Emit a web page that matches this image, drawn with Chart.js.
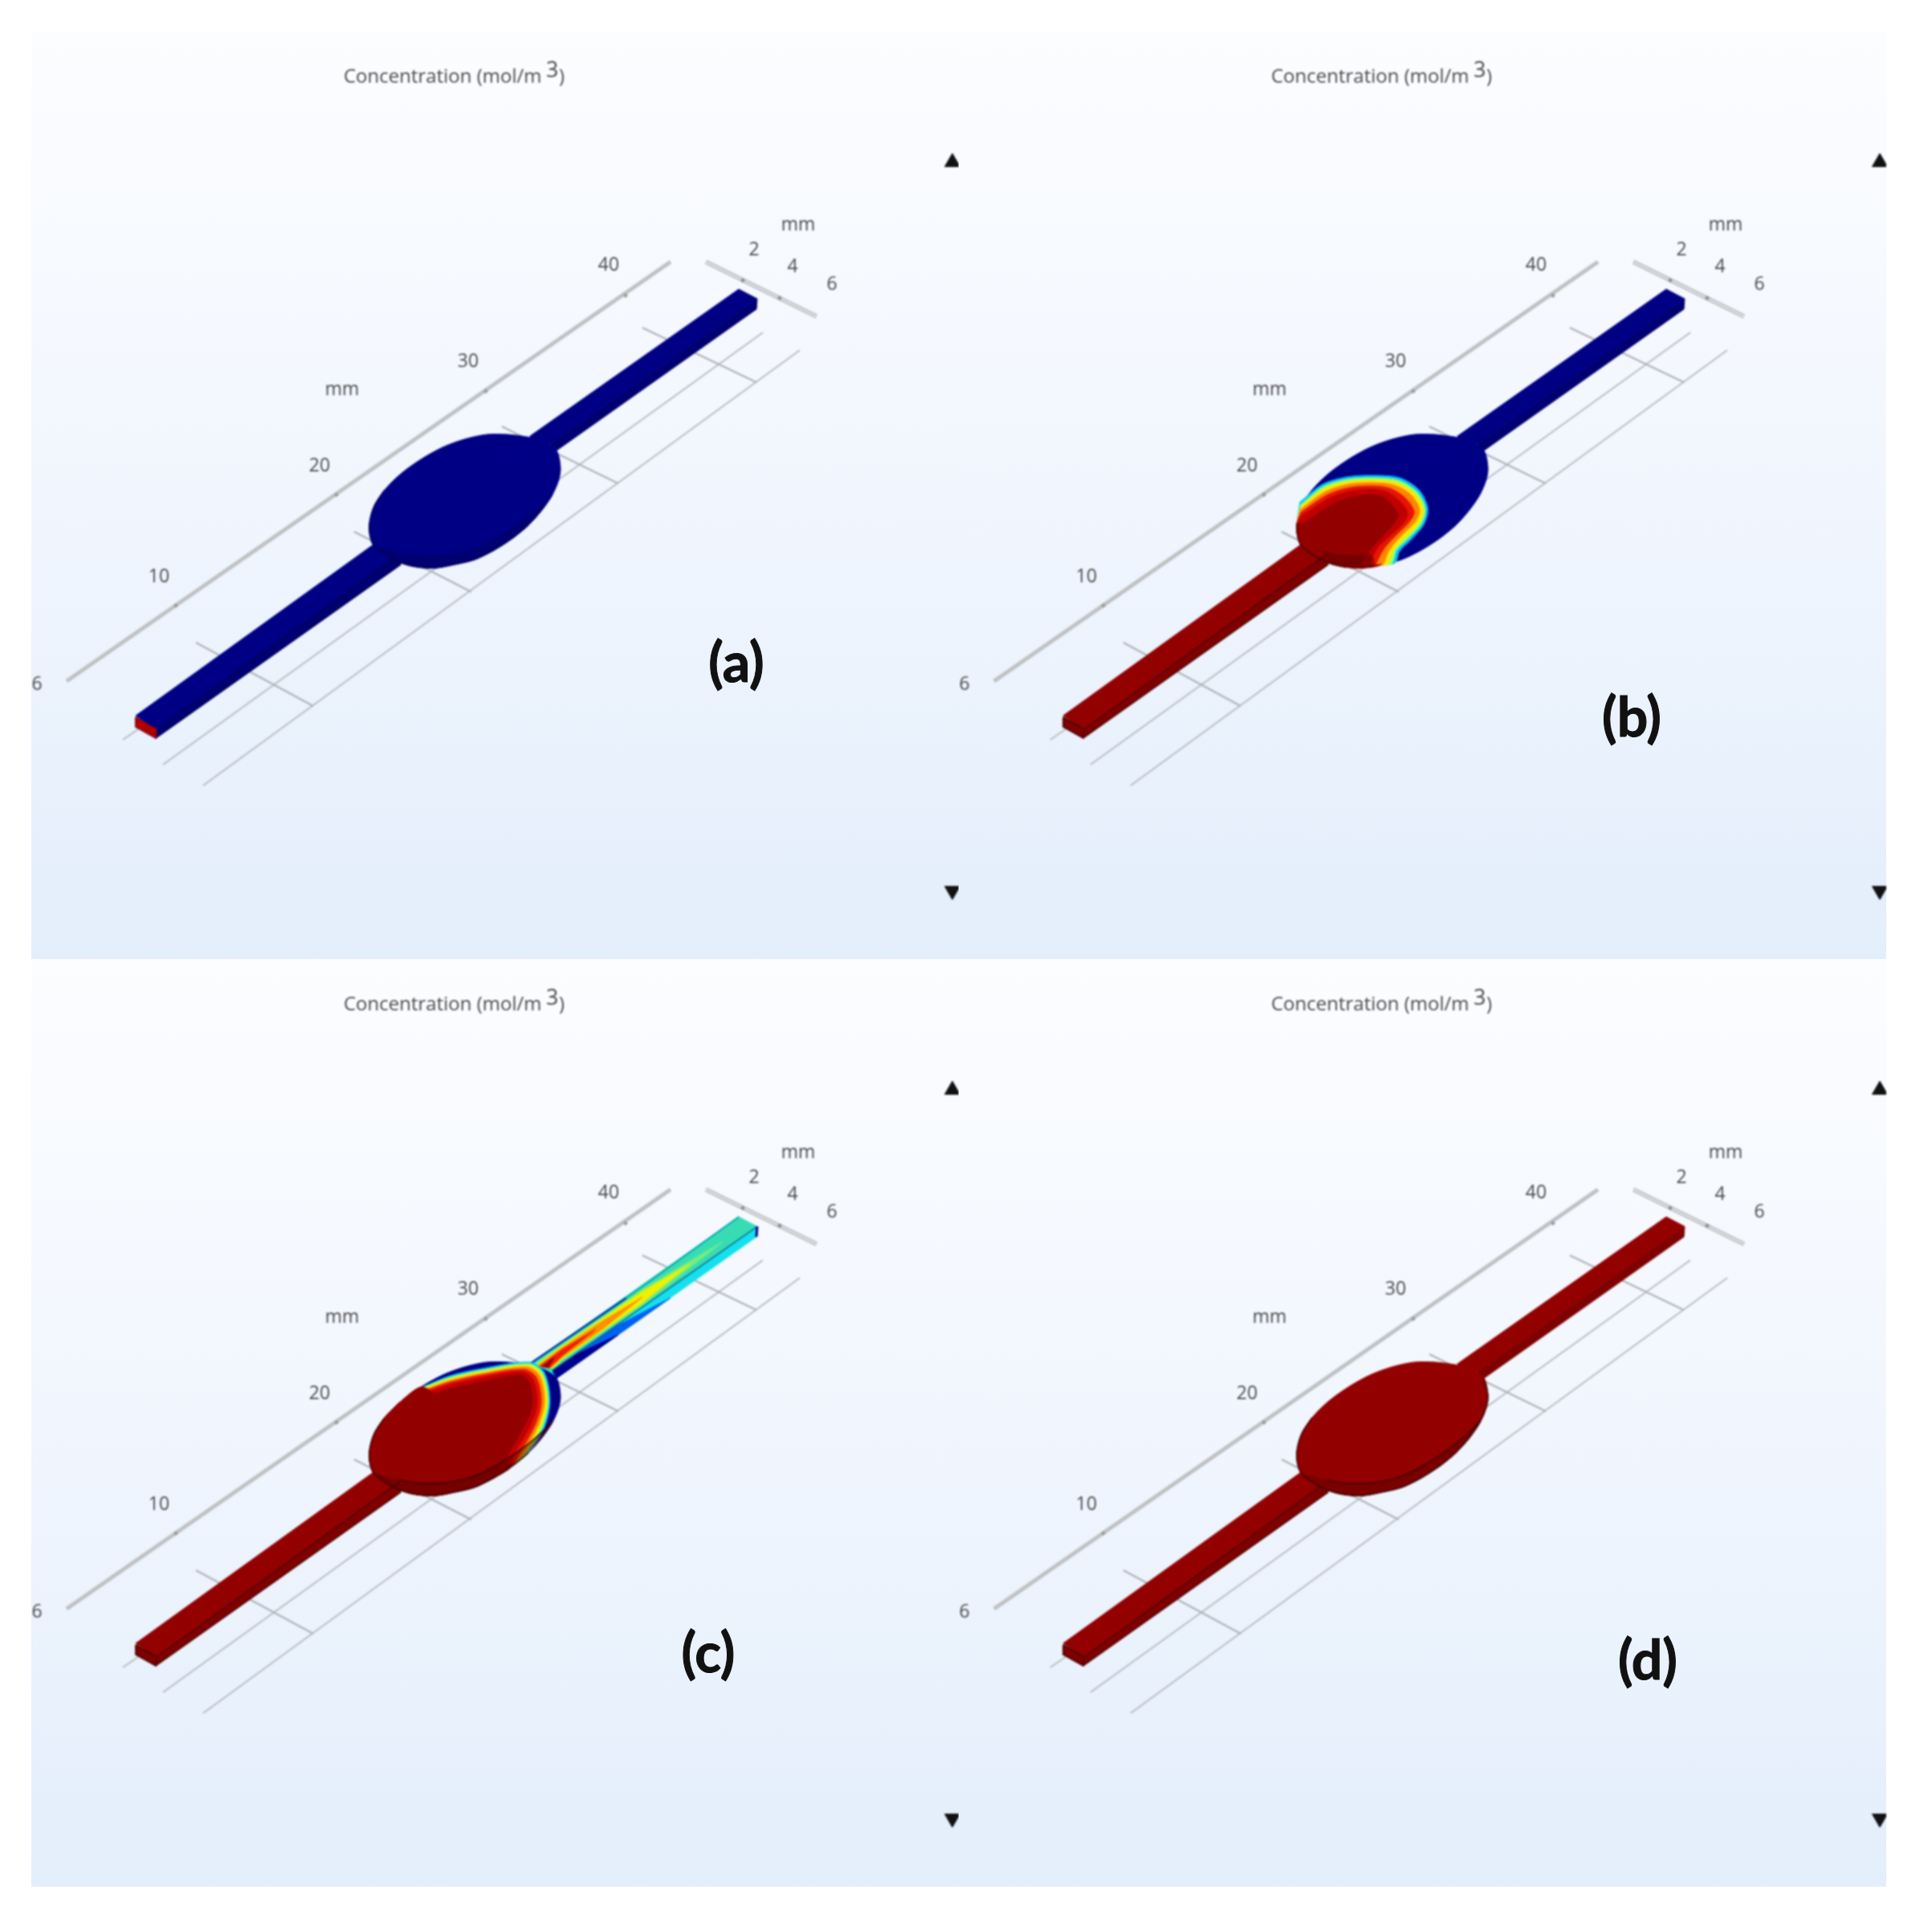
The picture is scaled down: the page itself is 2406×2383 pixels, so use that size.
<!DOCTYPE html>
<html>
<head>
<meta charset="utf-8">
<title>Concentration</title>
<script src="https://cdn.jsdelivr.net/npm/chart.js@4"></script>
<style>
html, body { margin: 0; padding: 0; background: #fff; width: 2406px; height: 2383px; overflow: hidden; }
.panel { position: absolute; width: 1155px; height: 1155px; background: linear-gradient(#fcfdff 0%, #f1f6fe 50%, #e3eefb 100%); }
.panel canvas { position: absolute; left: 0; top: 0; filter: blur(0.9px); }
.tag { position: absolute; font: 700 68px Lato, sans-serif; color: #111; -webkit-text-stroke: 1px #111; transform: translate(-50%, -50%); }
</style>
</head>
<body>
<script>
const panelNames = ["a", "b", "c", "d"];
const panelLeft = [39, 1194, 39, 1194];
const panelTop = [39, 39, 1194, 1194];
const tagLeft = [878, 838, 843, 858];
const tagTop = [783, 851, 861, 870];

const longAxis = [[83, 848], [835, 326]];
const longAxisTicks = [[219, 754], [419, 616], [605, 487], [779, 368]];
const longTickLabels = ["10", "20", "30", "40"];
const longTickLabelPos = [[198, 718], [398, 580], [583, 450], [758, 330]];
const shortAxis = [[879, 326], [1017, 394]];
const shortAxisTicks = [[925, 349], [971, 371]];
const shortTickLabels = ["2", "4", "6"];
const shortTickLabelPos = [[939, 311], [987, 332], [1036, 354]];
const extraLabels = ["mm", "mm", "6"];
const extraLabelPos = [[994, 280], [426, 485], [46, 852]];
const arrowUp = [[1186, 202]];
const arrowDown = [[1186, 1109]];

const gridLong = [
    [[153, 921], [172, 908]],
    [[203, 952], [950, 414]],
    [[253, 978], [996, 436]]
];
const gridCross = [
    [[244, 800], [390, 879]],
    [[441, 662], [587, 737]],
    [[625, 531], [770, 602]],
    [[800, 408], [942, 476]]
];

const leftArmTop = [[169, 891], [465, 678], [497, 690], [195, 908], [169, 891]];
const leftArmSide = [[195, 908], [497, 690], [499, 703], [194, 919], [195, 908]];
const leftEnd = [[169, 893], [195, 908], [194, 919], [169, 905], [169, 893]];
const leftFaceEdge = [[195, 908], [497, 690]];
const leftOuterEdge = [[194, 919], [499, 703]];
const rightArmTop = [[660, 543], [920, 360], [943, 372], [688, 551], [665, 565], [660, 543]];
const rightArmSide = [[688, 551], [943, 372], [942, 385], [693, 561], [670, 570], [688, 551]];

const chamberOutline = [[657, 544], [633, 541], [606, 541], [578, 547], [551, 557], [524, 572], [499, 590], [479, 610], [466, 630], [460, 652],
    [461, 668], [466, 680], [482, 692], [500, 701], [520, 706], [543, 707], [565, 703], [590, 697], [615, 685], [637, 671], [658, 654],
    [675, 635], [688, 616], [696, 597], [698, 582], [693, 561], [675, 549], [657, 544]];
const chamberRim = [[466, 680], [482, 692], [500, 701], [520, 706], [543, 707], [565, 703], [590, 697], [615, 685], [637, 671], [658, 654], [675, 635], [688, 616],
    [678, 625], [660, 641], [638, 657], [614, 672], [588, 684], [563, 690], [538, 692], [515, 691], [497, 688], [466, 680]];
const rimEdge = [[497, 688], [515, 691], [538, 692], [563, 690], [588, 684], [614, 672], [638, 657], [660, 641], [678, 625], [688, 614]];
const bRim = [[466, 680], [482, 692], [500, 701], [520, 706], [543, 707], [555, 705], [553, 691], [538, 692], [515, 691], [497, 688], [466, 680]];
const lowerEdge = [[479, 610], [466, 630], [460, 652], [461, 668], [466, 680], [482, 692], [500, 701], [520, 706], [543, 707], [565, 703], [590, 697],
    [615, 685], [637, 671], [658, 654]];
const rightEdge = [[658, 654], [675, 635], [688, 616], [696, 597], [698, 582], [693, 561]];

// bottom part of the outline that closes every contour
const closeB = [[565, 703], [543, 707], [520, 706], [500, 701], [482, 692], [466, 680], [461, 668], [460, 652]];
const closeC = [[637, 671], [615, 685], [590, 697], [565, 703], [543, 707], [520, 706], [500, 701], [482, 692], [466, 680], [461, 668], [460, 652], [466, 630], [479, 610], [499, 590], [524, 572]];

const contourColors = ["#00c4ff", "#9cff66", "#ffe600", "#ff8400", "#e61400", "#c00000", "#930000"];

const bContours = [
    [[464, 625], [492, 603], [522, 594], [555, 592], [588, 595], [612, 610], [623, 633], [618, 653], [602, 672], [588, 686], [582, 701]],
    [[465, 628], [493, 606], [522, 597], [555, 595], [586, 598], [609, 612], [620, 633], [615, 652], [599, 670], [584, 685], [578, 702]],
    [[465, 631], [494, 609], [523, 600], [555, 598], [584, 601], [606, 614], [617, 634], [612, 651], [596, 668], [580, 685], [573, 703]],
    [[465, 634], [496, 612], [524, 603], [555, 601], [581, 604], [602, 616], [613, 635], [607, 650], [591, 666], [575, 685], [567, 704]],
    [[465, 638], [498, 616], [526, 607], [555, 605], [576, 608], [595, 620], [606, 637], [600, 650], [584, 666], [568, 684], [558, 705]],
    [[465, 643], [501, 620], [528, 611], [555, 609], [573, 613], [589, 625], [598, 639], [592, 652], [576, 667], [559, 684], [551, 706]],
    [[468, 652], [504, 628], [531, 618], [555, 616], [569, 620], [580, 631], [586, 641], [580, 653], [566, 668], [550, 686], [541, 703]]
];

const cContours = [
    [[526, 572], [560, 558], [600, 549], [660, 541], [678, 554], [685, 589], [678, 622], [660, 652]],
    [[528, 572], [560, 560], [600, 551], [659, 543], [676, 555], [683, 589], [676, 621], [658, 651]],
    [[530, 573], [560, 562], [600, 553], [658, 545], [674, 556], [681, 590], [673, 621], [655, 652]],
    [[532, 574], [560, 564], [600, 555], [656, 547], [672, 558], [678, 590], [670, 620], [651, 654]],
    [[534, 575], [560, 566], [600, 557], [652, 550], [668, 560], [674, 592], [666, 620], [645, 658]],
    [[537, 577], [561, 569], [601, 560], [650, 553], [664, 563], [669, 593], [660, 621], [638, 660]],
    [[542, 581], [563, 573], [602, 565], [647, 557], [659, 566], [663, 595], [652, 622], [629, 666]]
];

// right arm of (c), nested wedges on the top face
const wedgeColors = ["#72ee80", "#f0f000", "#ff9000", "#ee2000", "#a00000"];
const wedges = [
    [[900, 391], [800, 450], [750, 485], [700, 519], [664, 544], [690, 549], [700, 539], [750, 504], [800, 470]],
    [[860, 418], [800, 453], [750, 487], [700, 521], [668, 545], [688, 548], [700, 537], [750, 502], [800, 467]],
    [[800, 460], [750, 490], [700, 523], [670, 545], [686, 548], [700, 535], [750, 500]],
    [[742, 500], [700, 525], [672, 546], [684, 548], [700, 533]],
    [[690, 535], [675, 546], [683, 548]]
];
const sideBlue = [[688, 551], [760, 500], [835, 461], [693, 561], [688, 551]];
const sideNavy = [[688, 551], [720, 530], [770, 507], [693, 561], [688, 551]];
const upperEdgeDark = [[660, 543], [780, 461]];
const upperEdgeTeal = [[780, 461], [920, 360]];
const faceSideEdge = [[688, 551], [943, 372]];
const farEndEdge = [[943, 372], [942, 385]];

const NAVY = "#000085", DARK = "#930000", DARKSIDE = "#7e0000";

function line(data, color, width) {
    return { data: data, showLine: true, borderColor: color, borderWidth: width, pointRadius: 0, fill: false, tension: 0 };
}
function curve(data, color, width) {
    return { data: data, showLine: true, borderColor: color, borderWidth: width, pointRadius: 0, fill: false, tension: 0.3 };
}
function poly(data, color, tension) {
    return { data: data, showLine: true, borderColor: color, borderWidth: 1, backgroundColor: color, pointRadius: 0, fill: "shape", tension: tension || 0 };
}
function marks(data, style, radius, color, rotation) {
    return { data: data, showLine: false, pointStyle: style, pointRadius: radius, pointBackgroundColor: color, pointBorderColor: color, pointRotation: rotation || 0 };
}

function frameSets() {
    let sets = [];
    gridLong.forEach(g => sets.push(line(g, "#b8bcc1", 2)));
    gridCross.forEach(g => sets.push(line(g, "#aeb2b7", 2)));
    sets.push(line(longAxis, "#bfc1c3", 5));
    sets.push(marks(longAxisTicks, "rectRot", 2.5, "#9a9a9a"));
    sets.push(line(shortAxis, "#bfc1c3", 5.5));
    sets.push(line(shortAxis, "#e4e6e8", 1.5));
    sets.push(marks(shortAxisTicks, "rectRot", 2.5, "#8f8f8f"));
    sets.push(marks(arrowUp, "triangle", 11, "#111"));
    sets.push(marks(arrowDown, "triangle", 11, "#111", 180));
    return sets;
}

function leftArmSets(top, side, end, edge) {
    return [poly(leftArmSide, side), poly(leftArmTop, top), poly(leftEnd, end), line(leftEnd, edge, 1.5),
        line(leftFaceEdge, edge, 1.5), line(leftOuterEdge, edge, 1.5)];
}

function buildPanel(name) {
    let sets = frameSets();
    if (name === "a") {
        sets.push(...leftArmSets(NAVY, "#000070", "#000070", "#00005a"));
        sets.push(poly(leftEnd, "#b00000"));
        sets.push(poly(rightArmSide, "#000070"), poly(rightArmTop, NAVY));
        sets.push(poly(chamberOutline, NAVY, 0.3));
        sets.push(poly(chamberRim, "#000070", 0.3));
        sets.push(curve(lowerEdge, "#00005a", 1.5));
    }
    if (name === "b") {
        sets.push(poly(rightArmSide, "#000070"), poly(rightArmTop, NAVY));
        sets.push(poly(chamberOutline, NAVY, 0.3));
        bContours.forEach((c, i) => sets.push(poly(c.concat(closeB, [c[0]]), contourColors[i], 0.3)));
        sets.push(poly(bRim, "rgba(90,0,0,0.5)", 0.3));
        sets.push(...leftArmSets(DARK, DARKSIDE, DARKSIDE, "#4a0000"));
        sets.push(curve(closeB.slice(2), "#4a0000", 1.5));
    }
    if (name === "c") {
        sets.push(poly(rightArmSide, "#14e0ee"), poly(sideBlue, "#0060f0"), poly(sideNavy, "#00008c"));
        sets.push(poly(rightArmTop, "#38dcb4"));
        wedges.forEach((w, i) => sets.push(poly(w.concat([w[0]]), wedgeColors[i])));
        sets.push(line(upperEdgeDark, "#0030b0", 2.5), line(upperEdgeTeal, "#00a8b0", 2));
        sets.push(line(faceSideEdge, "#0a5a8a", 1.5), line(farEndEdge, "#000090", 3));
        sets.push(poly(chamberOutline, NAVY, 0.3));
        cContours.forEach((c, i) => sets.push(poly(c.concat(closeC, [c[0]]), contourColors[i], 0.3)));
        sets.push(...leftArmSets(DARK, DARKSIDE, DARKSIDE, "#4a0000"));
        sets.push(poly(chamberRim, "rgba(90,0,0,0.5)", 0.3), curve(rimEdge, "#3a0000", 1.5), curve(lowerEdge, "#3a0000", 1.5));
    }
    if (name === "d") {
        sets.push(poly(rightArmSide, DARKSIDE), poly(rightArmTop, DARK));
        sets.push(poly(chamberOutline, DARK, 0.3));
        sets.push(...leftArmSets(DARK, DARKSIDE, DARKSIDE, "#4a0000"));
        sets.push(poly(chamberRim, "#7a0000", 0.3), curve(rimEdge, "#3a0000", 1.5), curve(lowerEdge, "#3a0000", 1.5), curve(rightEdge, "#3a0000", 1.5));
    }
    return sets.reverse(); // chart.js paints the first dataset last
}

const panelText = {
    id: "panelText",
    afterDatasetsDraw(chart) {
        const ctx = chart.ctx, sx = chart.scales.x, sy = chart.scales.y;
        const put = (t, p) => ctx.fillText(t, sx.getPixelForValue(p[0]), sy.getPixelForValue(p[1]));
        ctx.save();
        ctx.fillStyle = "#4a4a4a";
        ctx.font = '23px "Open Sans"';
        ctx.textAlign = "center";
        ctx.textBaseline = "middle";
        longTickLabels.forEach((t, i) => put(t, longTickLabelPos[i]));
        shortTickLabels.forEach((t, i) => put(t, shortTickLabelPos[i]));
        extraLabels.forEach((t, i) => put(t, extraLabelPos[i]));
        ctx.textAlign = "left";
        ctx.font = '24px "Open Sans"';
        put("Concentration (mol/m", [428, 96]);
        ctx.font = '27px "Open Sans"';
        put("3", [680, 88]);
        ctx.font = '24px "Open Sans"';
        put(")", [696, 96]);
        ctx.restore();
    }
};

panelNames.forEach((name, i) => {
    const wrap = document.createElement("div");
    wrap.className = "panel";
    wrap.style.left = panelLeft[i] + "px";
    wrap.style.top = panelTop[i] + "px";
    const canvas = document.createElement("canvas");
    canvas.width = 1155;
    canvas.height = 1155;
    wrap.appendChild(canvas);
    const tag = document.createElement("div");
    tag.className = "tag";
    tag.textContent = "(" + name + ")";
    tag.style.left = tagLeft[i] + "px";
    tag.style.top = tagTop[i] + "px";
    wrap.appendChild(tag);
    document.body.appendChild(wrap);

    new Chart(canvas.getContext("2d"), {
        type: "scatter",
        data: { datasets: buildPanel(name) },
        options: {
            responsive: false,
            animation: false,
            devicePixelRatio: 1,
            layout: { padding: 0, autoPadding: false },
            plugins: { legend: { display: false }, tooltip: { enabled: false } },
            scales: {
                x: { type: "linear", display: false, min: 39, max: 1194 },
                y: { type: "linear", display: false, min: 39, max: 1194, reverse: true }
            }
        },
        plugins: [panelText]
    });
});
</script>
</body>
</html>
